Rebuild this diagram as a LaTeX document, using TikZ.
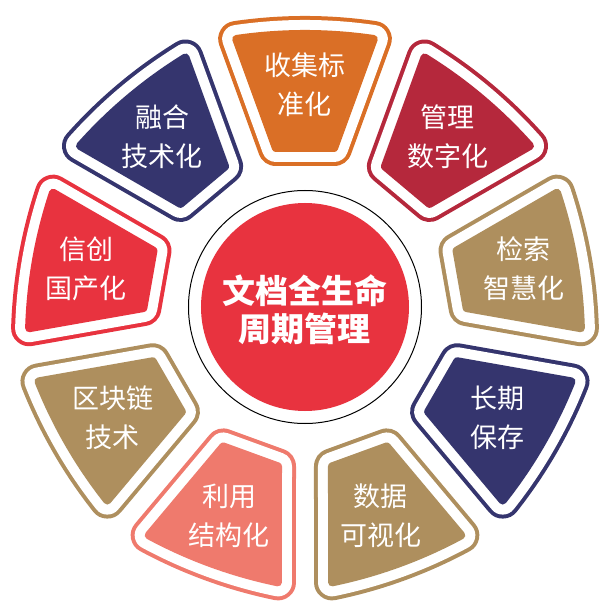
\documentclass[tikz,border=0pt]{standalone}
\usepackage{fontspec}
\newfontfamily\cjk{Noto Sans CJK SC}
\definecolor{corange}{HTML}{DA6F26}
\definecolor{cdred}{HTML}{B5283C}
\definecolor{cgold}{HTML}{AE8F5E}
\definecolor{cnavy}{HTML}{35356E}
\definecolor{csalmon}{HTML}{EF7A6D}
\definecolor{cred}{HTML}{E8333F}
\tikzset{
  segtext/.style={text=white, align=center, inner sep=0pt, font=\cjk\fontsize{27}{39}\selectfont},
  ctext/.style={text=white, align=center, inner sep=0pt, font=\cjk\bfseries\fontsize{33}{38}\selectfont},
}
\begin{document}
\begin{tikzpicture}[x=1pt,y=1pt]
\useasboundingbox (-305,-298) rectangle (303,307);
\foreach \ang/\col/\txt [count=\i] in {
  90/corange/{收集标\\准化},
  50/cdred/{管理\\数字化},
  10/cgold/{检索\\智慧化},
  -30/cnavy/{长期\\保存},
  -70/cgold/{数据\\可视化},
  -110/csalmon/{利用\\结构化},
  -150/cgold/{区块链\\技术},
  170/cred/{信创\\国产化},
  130/cnavy/{融合\\技术化}}{
  \begin{scope}[rotate=\ang-90]
    \path[draw=\col, line width=36pt, line join=round]
      (-29.14,159) -- (-68.81,268) .. controls (-23,274.7) and (23,274.7) .. (68.81,268) -- (29.14,159) -- cycle;
    \path[draw=white, line width=28pt, line join=round]
      (-29.14,159) -- (-68.81,268) .. controls (-23,274.7) and (23,274.7) .. (68.81,268) -- (29.14,159) -- cycle;
    \path[fill=\col, draw=\col, line width=8pt, line join=round]
      (-29.14,159) -- (-68.81,268) .. controls (-23,274.7) and (23,274.7) .. (68.81,268) -- (29.14,159) -- cycle;
  \end{scope}
  \node[segtext] (s\i) at (\ang:222) {\txt};
}
\draw[black, line width=1pt, fill=white] (0,0) circle (116.5);
\fill[cred] (0,0) circle (104);
\node[ctext] (c) at (0,-3) {文档全生命\\周期管理};
\end{tikzpicture}
\end{document}
